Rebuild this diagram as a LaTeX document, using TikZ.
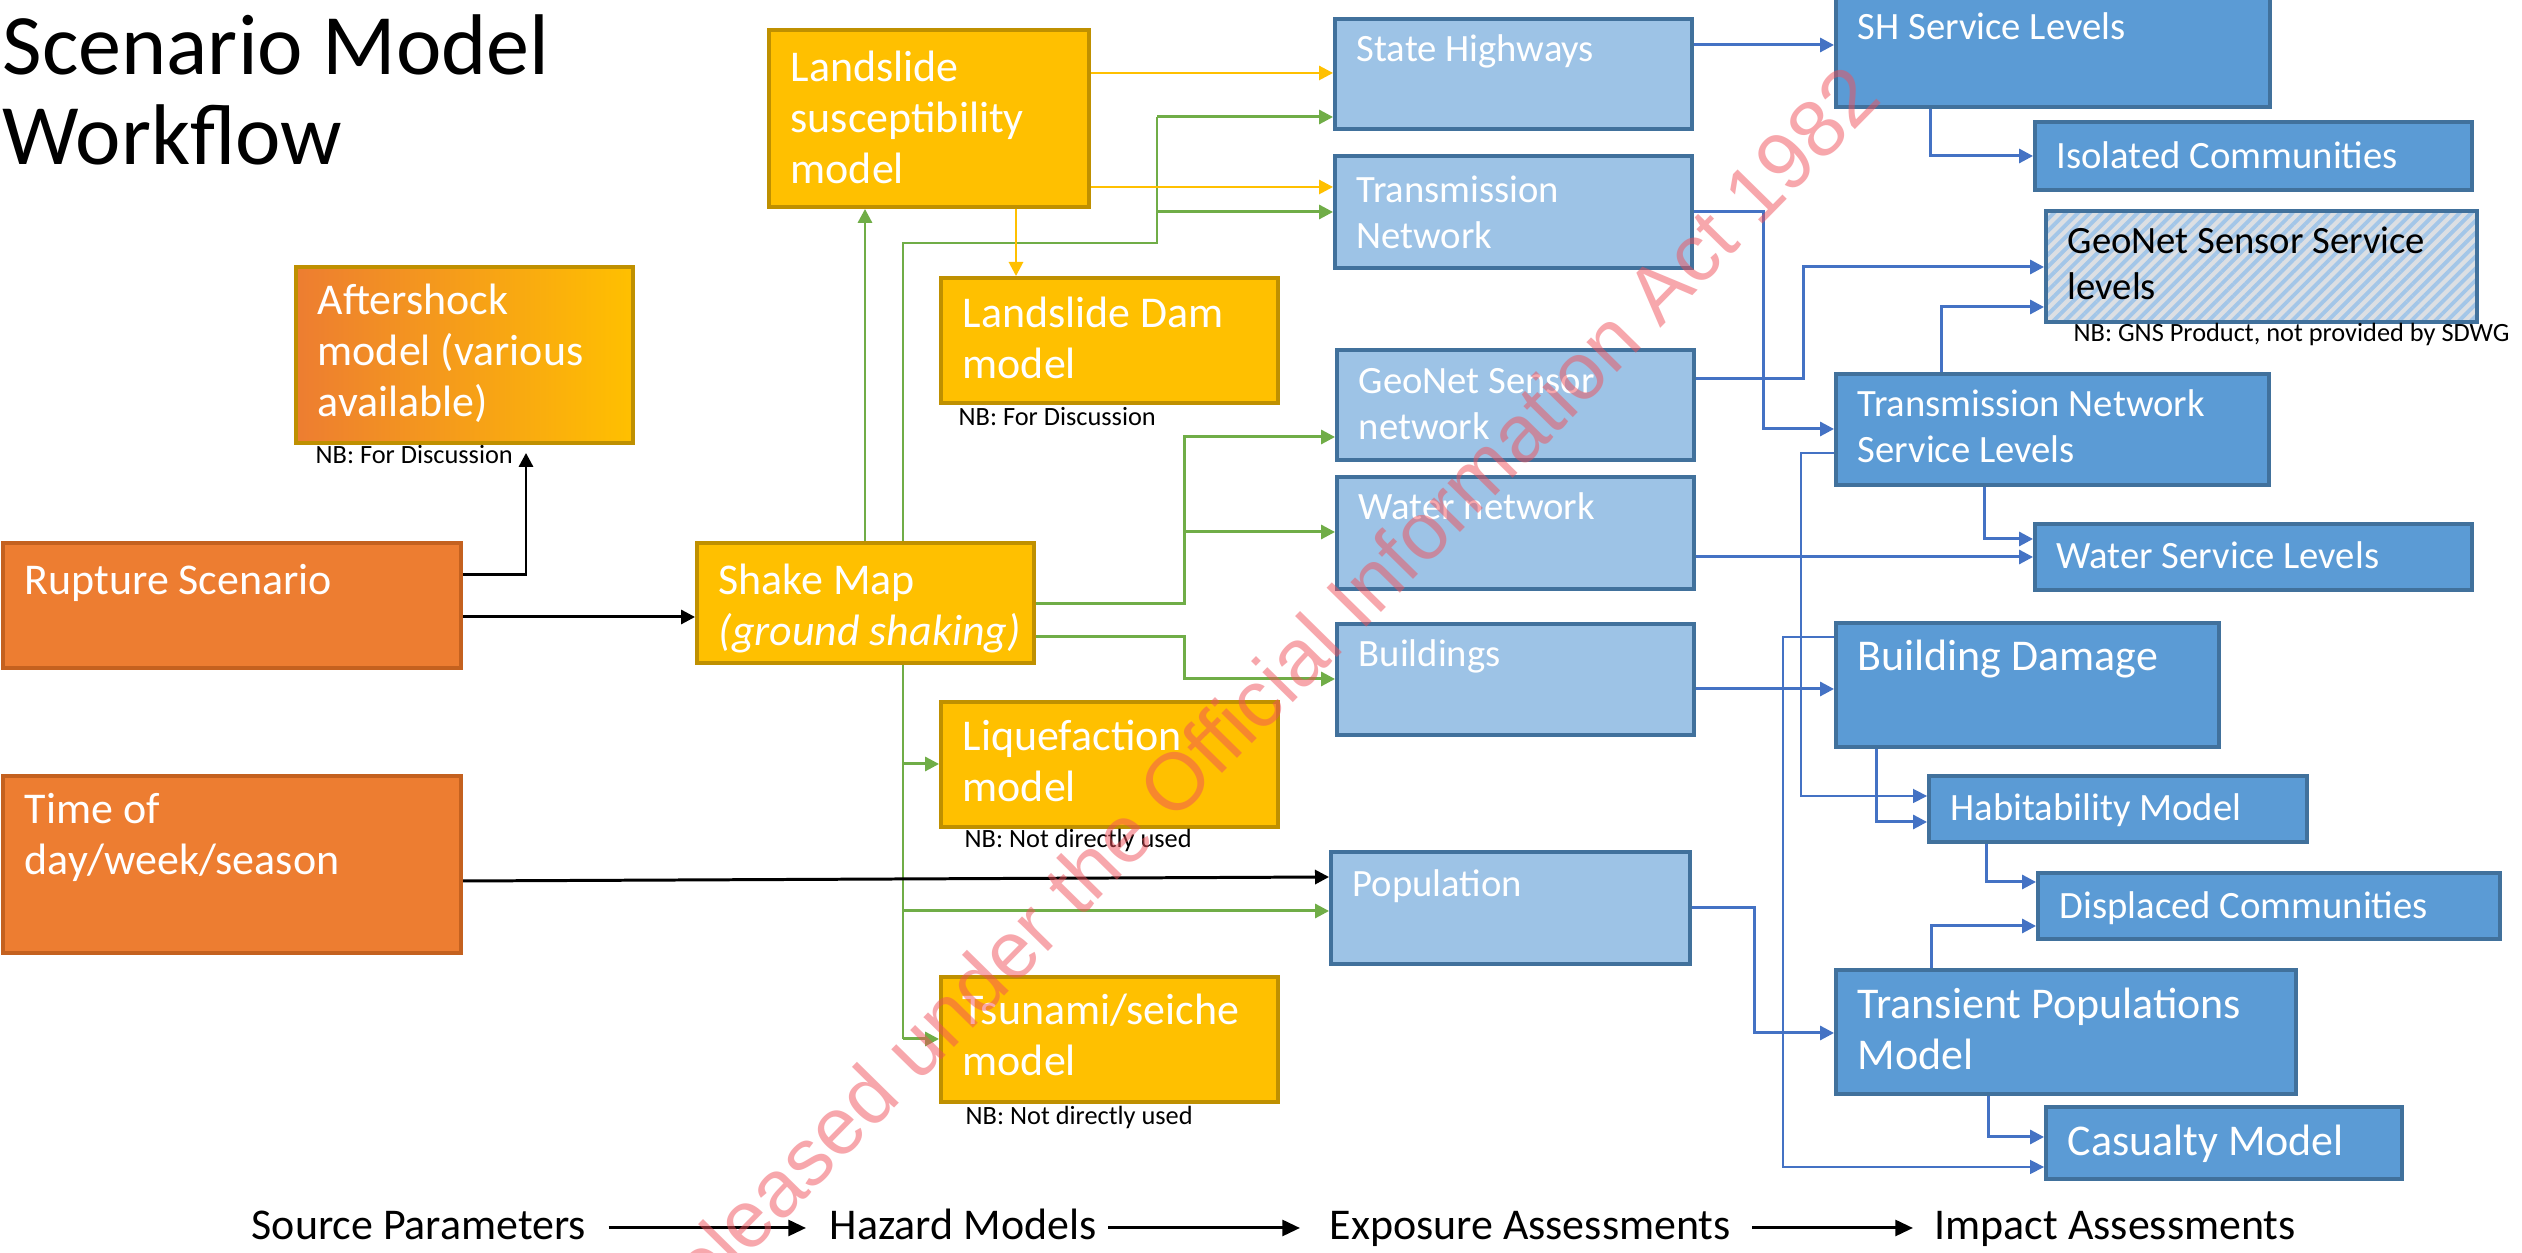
\documentclass[tikz,border=0pt]{standalone}
\usepackage{fontspec}
\setmainfont{Carlito}
\newfontfamily\wmfont{Liberation Sans}
\usetikzlibrary{arrows.meta,fit,backgrounds,patterns.meta}
\definecolor{orF}{HTML}{ED7D31}
\definecolor{orD}{HTML}{C4611F}
\definecolor{gdF}{HTML}{FFC000}
\definecolor{gdD}{HTML}{BF9000}
\definecolor{exF}{HTML}{9DC3E6}
\definecolor{imF}{HTML}{5B9BD5}
\definecolor{bxD}{HTML}{41719C}
\definecolor{cBlue}{HTML}{4472C4}
\definecolor{cGreen}{HTML}{70AD47}
\definecolor{cGold}{HTML}{FFC000}
\definecolor{hatchBg}{HTML}{DCDFE3}
\definecolor{hatchFg}{HTML}{A3C6E8}
\definecolor{wmRed}{HTML}{F0505A}
\newcommand\TL[1]{\begin{tabular}[t]{@{}l@{}}#1\end{tabular}}
\newcommand\BX[9]{%
  \node[#2, fit={(#3,#4)(#5,#6)}] (#1) {};
  \node[#8, anchor=base west, inner sep=0pt] (#1-t) at ({#3+21},{#4+#7}) {\TL{#9}};
}
\tikzset{
  boxbase/.style={rectangle, inner sep=0pt, line width=1.1pt},
  orbox/.style={boxbase, fill=orF, draw=orD},
  gdbox/.style={boxbase, fill=gdF, draw=gdD},
  afbox/.style={boxbase, left color=orF, right color=gdF, draw=gdD},
  exbox/.style={boxbase, fill=exF, draw=bxD},
  imbox/.style={boxbase, fill=imF, draw=bxD},
  gsbox/.style={boxbase, draw=bxD, preaction={fill=hatchBg},
    pattern={Lines[angle=45,distance=2.4pt,line width=1.1pt]}, pattern color=hatchFg},
  bigw/.style={font=\fontsize{12.5}{14.5}\selectfont, text=white},
  smlw/.style={font=\fontsize{11}{13}\selectfont, text=white},
  smlk/.style={font=\fontsize{11}{13}\selectfont, text=black},
  note/.style={font=\fontsize{7.5}{9}\selectfont, anchor=base west, inner sep=0pt},
  lbl/.style={font=\fontsize{12.5}{14.5}\selectfont, anchor=base west, inner sep=0pt},
  tip/.style={-{Triangle[length=4pt,width=4pt]}},
  blu/.style={draw=cBlue, line width=0.85pt, tip},
  bluthin/.style={draw=cBlue, line width=0.45pt, tip},
  grn/.style={draw=cGreen, line width=0.85pt, tip},
  grnthin/.style={draw=cGreen, line width=0.45pt},
  gld/.style={draw=cGold, line width=0.75pt, tip},
  blk/.style={draw=black, line width=0.85pt, tip},
  blkb/.style={draw=black, line width=0.85pt, -{Triangle[length=5pt,width=4.5pt]}},
}
\begin{document}
\begin{tikzpicture}[x=0.1mm,y=-0.1mm]
\useasboundingbox (0,0) rectangle (2522,1253);
\clip (0,0) rectangle (2522,1253);

% title
\node[anchor=base west, inner sep=0pt, font=\fontsize{24.5}{25.5}\selectfont] (title) at (2,75) {\TL{Scenario Model\\Workflow}};

% source and hazard boxes
\BX{lss}{gdbox}{769}{30}{1089}{207}{52}{bigw}{Landslide\\susceptibility\\model}
\BX{aft}{afbox}{296}{267}{633}{443}{48}{bigw}{Aftershock\\model (various\\available)}
\BX{lsd}{gdbox}{941}{278}{1278}{403}{50}{bigw}{Landslide Dam\\model}
\BX{rup}{orbox}{3}{543}{461}{668}{52}{bigw}{Rupture Scenario}
\BX{shk}{gdbox}{697}{543}{1034}{663}{52}{bigw}{Shake Map\\\textit{(ground shaking)}}
\BX{liq}{gdbox}{941}{702}{1278}{827}{49}{bigw}{Liquefaction\\model}
\BX{tim}{orbox}{3}{776}{461}{953}{48}{bigw}{Time of\\day/week/season}
\BX{tsu}{gdbox}{941}{977}{1278}{1102}{48}{bigw}{Tsunami/seiche\\model}

% exposure boxes
\BX{sh}{exbox}{1335}{19}{1692}{129}{43}{smlw}{State Highways}
\BX{tn}{exbox}{1335}{156}{1692}{268}{47}{smlw}{Transmission\\Network}
\BX{gsn}{exbox}{1337}{350}{1694}{460}{44}{smlw}{GeoNet Sensor\\network}
\BX{wat}{exbox}{1337}{477}{1694}{589}{43}{smlw}{Water network}
\BX{bld}{exbox}{1337}{624}{1694}{735}{43}{smlw}{Buildings}
\BX{pop}{exbox}{1331}{852}{1690}{964}{45}{smlw}{Population}

% impact boxes
\BX{shsl}{imbox}{1836}{-6}{2270}{107}{46}{smlw}{SH Service Levels}
\BX{iso}{imbox}{2035}{122}{2472}{190}{47}{smlw}{Isolated Communities}
\BX{gssl}{gsbox}{2046}{211}{2477}{322}{43}{smlk}{GeoNet Sensor Service\\levels}
\BX{tnsl}{imbox}{1836}{374}{2269}{485}{43}{smlw}{Transmission Network\\Service Levels}
\BX{wsl}{imbox}{2035}{524}{2472}{590}{45}{smlw}{Water Service Levels}
\BX{bd}{imbox}{1836}{623}{2219}{747}{48}{bigw}{Building Damage}
\BX{hab}{imbox}{1929}{776}{2307}{842}{45}{smlw}{Habitability Model}
\BX{dis}{imbox}{2038}{873}{2500}{939}{46}{smlw}{Displaced Communities}
\BX{trp}{imbox}{1836}{970}{2296}{1094}{49}{bigw}{Transient Populations\\Model}
\BX{cas}{imbox}{2046}{1107}{2402}{1179}{49}{bigw}{Casualty Model}

% notes
\node[note] (n-aft) at (315,464) {NB: For Discussion};
\node[note] (n-lsd) at (958,426) {NB: For Discussion};
\node[note] (n-liq) at (964,848) {NB: Not directly used};
\node[note] (n-tsu) at (965,1125) {NB: Not directly used};
\node[note] (n-gssl) at (2073,342) {NB: GNS Product, not provided by SDWG};

% bottom labels
\node[lbl] (src) at (251,1240) {Source Parameters};
\node[lbl] (haz) at (829,1240) {Hazard Models};
\node[lbl] (exa) at (1329,1240) {Exposure Assessments};
\node[lbl] (ima) at (1934,1240) {Impact Assessments};

% junction coordinates
\coordinate (jTop) at (903,243);
\coordinate (jSH) at (1157,117);
\coordinate (jTN) at (1157,212);
\coordinate (jLiq) at (903,764);
\coordinate (jPop) at (903,911);
\coordinate (jTsu) at (903,1039);
\coordinate (jGeo) at (1184,437);
\coordinate (jWat) at (1184,532);
\coordinate (jBld) at (1184,679);
\coordinate (jTN2) at (1763,429);
\coordinate (jGS) at (1803,267);
\coordinate (jHab) at (1801,796);
\coordinate (jCas) at (1783,1167);
\coordinate (jTrp) at (1754,1033);

\begin{scope}[on background layer]
\fill[white] (0,0) rectangle (2522,1253);
% green
\draw[grnthin] (tsu.west -| jTsu) -- (jTop) -| (jSH);
\draw[grn] (jSH) -- (sh.west |- jSH);
\draw[grn] (jTN) -- (tn.west |- jTN);
\draw[grn] (jLiq) -- (liq.west |- jLiq);
\draw[grn] (jPop) -- (pop.west |- jPop);
\draw[grn] (jTsu) -- (tsu.west |- jTsu);
\draw[grn] (shk.north -| 865,0) -- (lss.south -| 865,0);
\draw[grn] (shk.east |- 0,604) -| (jGeo) -- (gsn.west |- jGeo);
\draw[grn] (jWat) -- (wat.west |- jWat);
\draw[grn] (shk.east |- 0,637) -| (jBld) -- (bld.west |- jBld);
% gold
\draw[gld] (lss.east |- 0,73) -- (sh.west |- 0,73);
\draw[gld] (lss.east |- 0,187) -- (tn.west |- 0,187);
\draw[gld] (lss.south -| 1016,0) -- (lsd.north -| 1016,0);
% black
\draw[blk, shorten >=0.8mm] (rup.east |- 0,575) -| (aft.south -| 526,0);
\draw[blk] (rup.east |- 0,617) -- (shk.west |- 0,617);
\draw[blk] (tim.east |- 0,881) -- (pop.west |- 0,877);
% blue
\draw[blu] (sh.east |- 0,45) -- (shsl.west |- 0,45);
\draw[blu] (shsl.south -| 1930,0) |- (iso.west |- 0,156);
\draw[blu] (tn.east |- jTN) -| (jTN2) -- (tnsl.west |- jTN2);
\draw[blu] (gsn.east |- 0,379) -| (jGS) -- (gssl.west |- jGS);
\draw[blu] (tnsl.north -| 1941,0) |- (gssl.west |- 0,307);
\draw[blu] (tnsl.south -| 1984,0) |- (wsl.west |- 0,539);
\draw[blu] (wat.east |- 0,557) -- (wsl.west |- 0,557);
\draw[bluthin] (tnsl.west |- 0,453) -| (jHab) -- (hab.west |- jHab);
\draw[bluthin] (bd.west |- 0,637) -| (jCas) -- (cas.west |- jCas);
\draw[blu] (bld.east |- 0,689) -- (bd.west |- 0,689);
\draw[blu] (bd.south -| 1876,0) |- (hab.west |- 0,822);
\draw[blu] (hab.south -| 1986,0) |- (dis.west |- 0,882);
\draw[blu] (trp.north -| 1931,0) |- (dis.west |- 0,926);
\draw[blu] (pop.east |- 0,908) -| (jTrp) -- (trp.west |- jTrp);
\draw[blu] (trp.south -| 1988,0) |- (cas.west |- 0,1137);
% bottom flow
\draw[blkb, shorten <=2.2mm, shorten >=2.3mm] (src.east |- 0,1228) -- (haz.west |- 0,1228);
\draw[blkb, shorten <=1.1mm, shorten >=2.9mm] (haz.east |- 0,1228) -- (exa.west |- 0,1228);
\draw[blkb, shorten <=2.1mm, shorten >=2.1mm] (exa.east |- 0,1228) -- (ima.west |- 0,1228);
\end{scope}

% watermark
\node[font=\wmfont\fontsize{23}{23}\selectfont, text=wmRed, text opacity=0.5, rotate=45.5, anchor=base east, inner sep=0pt] (wm) at (1885,100) {Released under the Official Information Act 1982};
\end{tikzpicture}
\end{document}
